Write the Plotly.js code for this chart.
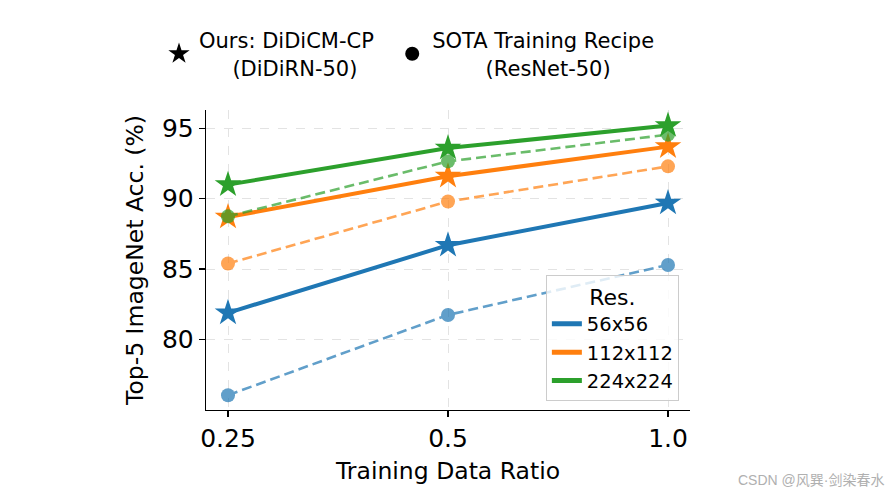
<!DOCTYPE html>
<html>
<head>
<meta charset="utf-8">
<script src="https://cdn.plot.ly/plotly-3.0.1.min.js"></script>
<style>html,body{margin:0;padding:0;background:#fff;}#chart{width:889px;height:495px;}</style>
</head>
<body>
<div id="chart"></div>
<script>
const ratios = ["0.25", "0.5", "1.0"];
const resolutions = ["56x56", "112x112", "224x224"];
const colors = ["#1f77b4", "#ff7f0e", "#2ca02c"];
const oursAcc = [
  [81.9, 86.7, 89.7],
  [88.7, 91.6, 93.7],
  [91.0, 93.6, 95.2]
];
const sotaAcc = [
  [76.05, 81.75, 85.3],
  [85.4, 89.8, 92.3],
  [88.75, 92.65, 94.55]
];
const oursName = "Ours: DiDiCM-CP\u00a0\u00a0<br>\u00a0\u00a0\u00a0\u00a0\u00a0(DiDiRN-50)";
const sotaName = "SOTA Training Recipe<br>\u00a0\u00a0\u00a0\u00a0\u00a0\u00a0\u00a0\u00a0(ResNet-50)";

const traces = [];
for (let i = 0; i < resolutions.length; i++) {
  traces.push({
    x: ratios, y: oursAcc[i], type: "scatter", mode: "lines+markers",
    line: {color: colors[i], width: 4},
    marker: {symbol: "star", size: 20, color: colors[i], line: {width: 0}},
    showlegend: false, hoverinfo: "skip"
  });
  traces.push({
    x: ratios, y: sotaAcc[i], type: "scatter", mode: "lines+markers",
    line: {color: colors[i], width: 2.6, dash: "10px,5px"},
    marker: {symbol: "circle", size: 14, color: colors[i], line: {width: 0}},
    opacity: 0.7, showlegend: false, hoverinfo: "skip"
  });
}
// method legend (top)
traces.push({x: [null], y: [null], type: "scatter", mode: "markers", name: oursName,
  marker: {symbol: "star", size: 16, color: "black", line: {width: 0}}, legend: "legend"});
traces.push({x: [null], y: [null], type: "scatter", mode: "markers", name: sotaName,
  marker: {symbol: "circle", size: 14, color: "black", line: {width: 0}}, legend: "legend"});
// resolution legend
for (let i = 0; i < resolutions.length; i++) {
  traces.push({x: [null], y: [null], type: "scatter", mode: "lines", name: resolutions[i],
    line: {color: colors[i], width: 5}, legend: "legend2"});
}

const font = "DejaVu Sans, sans-serif";
const layout = {
  width: 889, height: 495,
  margin: {l: 206, r: 199, t: 110, b: 85, autoexpand: false},
  paper_bgcolor: "#fff", plot_bgcolor: "#fff",
  font: {family: font, color: "#000"},
  xaxis: {
    type: "category", range: [-0.1, 2.1],
    showline: true, linecolor: "#000", linewidth: 1.3,
    ticks: "outside", ticklen: 6, tickwidth: 1.3, tickcolor: "#000",
    tickfont: {size: 25, family: font},
    showgrid: true, gridcolor: "#e3e3e3", gridwidth: 1, griddash: "dash",
    zeroline: false,
    title: {text: "Training Data Ratio", font: {size: 23.5, family: font}, standoff: 10}
  },
  yaxis: {
    range: [75.0, 96.3], tickvals: [80, 85, 90, 95],
    showline: true, linecolor: "#000", linewidth: 1.3,
    ticks: "outside", ticklen: 6, tickwidth: 1.3, tickcolor: "#000",
    tickfont: {size: 25, family: font},
    showgrid: true, gridcolor: "#e3e3e3", gridwidth: 1, griddash: "dash",
    zeroline: false,
    title: {text: "Top-5 ImageNet Acc. (%)", font: {size: 23.5, family: font}, standoff: 11}
  },
  legend: {
    orientation: "h",
    x: (159 - 206) / 484, xanchor: "left", y: (410 - 20) / 300, yanchor: "top",
    font: {size: 21, family: font}, bgcolor: "rgba(0,0,0,0)", borderwidth: 0,
    itemclick: false, itemdoubleclick: false
  },
  legend2: {
    x: 0.977, xanchor: "right", y: 0.03, yanchor: "bottom",
    font: {size: 19.5, family: font},
    bgcolor: "rgba(255,255,255,0.8)", bordercolor: "#cccccc", borderwidth: 1,
    title: {text: "Res.", side: "top center", font: {size: 22, family: font}},
    itemclick: false, itemdoubleclick: false
  },
  annotations: [{
    xref: "paper", yref: "paper",
    x: (886 - 206) / 484, y: (410 - 480) / 300, xanchor: "right", yanchor: "middle",
    text: "CSDN @风巽·剑染春水", showarrow: false,
    font: {size: 14, color: "#b0b0b0", family: "Liberation Sans, Noto Sans CJK SC, sans-serif"}
  }]
};
Plotly.newPlot("chart", traces, layout, {displayModeBar: false, staticPlot: true});
</script>
</body>
</html>
